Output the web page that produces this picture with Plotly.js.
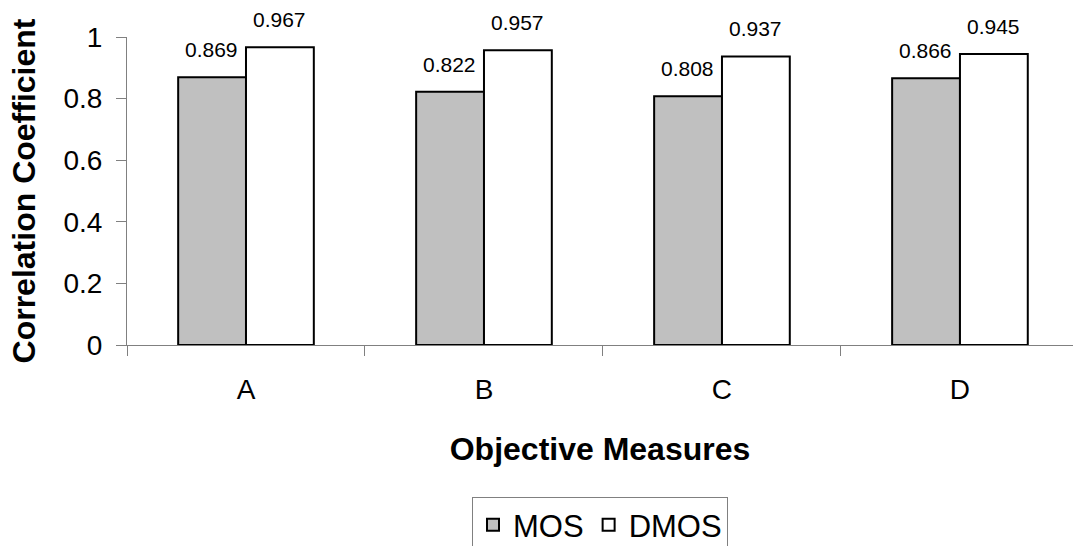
<!DOCTYPE html>
<html>
<head>
<meta charset="utf-8">
<script src="https://cdn.plot.ly/plotly-3.0.1.min.js"></script>
<style>html,body{margin:0;padding:0;overflow:hidden;background:#fff}</style>
</head>
<body>
<div id="chart" style="width:1073px;height:562px"></div>
<script>
const categories = ["A", "B", "C", "D"];
const mosValues = [0.869, 0.822, 0.808, 0.866];
const dmosValues = [0.967, 0.957, 0.937, 0.945];
const yTickValues = [0, 0.2, 0.4, 0.6, 0.8, 1];
const yTickLabels = ["0", "0.2", "0.4", "0.6", "0.8", "1"];

const FONT = "Liberation Sans, Arial, sans-serif";

const traces = [
  {type: "bar", name: "MOS", x: categories, y: mosValues,
   marker: {color: "#c0c0c0", line: {color: "#000", width: 2}}, hoverinfo: "skip"},
  {type: "bar", name: "DMOS", x: categories, y: dmosValues,
   marker: {color: "#ffffff", line: {color: "#000", width: 2}}, hoverinfo: "skip"}
];

const annotations = [];
categories.forEach((c, i) => {
  annotations.push({x: c, y: mosValues[i], text: mosValues[i].toFixed(3), showarrow: false,
    xshift: -34, yshift: 14, yanchor: "bottom", font: {family: FONT, size: 21, color: "#000"}});
  annotations.push({x: c, y: dmosValues[i], text: dmosValues[i].toFixed(3), showarrow: false,
    xshift: 34, yshift: 14, yanchor: "bottom", font: {family: FONT, size: 21, color: "#000"}});
});

const layout = {
  width: 1073, height: 562,
  margin: {l: 127, r: 0, t: 37, b: 217},
  paper_bgcolor: "#fff", plot_bgcolor: "#fff",
  font: {family: FONT, color: "#000"},
  barmode: "group", bargap: 0.43, bargroupgap: 0,
  showlegend: true,
  legend: {orientation: "h", x: 0.5, xanchor: "center", y: -0.4935, yanchor: "top",
    bordercolor: "#808080", borderwidth: 1, font: {family: FONT, size: 31, color: "#000"},
    traceorder: "normal"},
  xaxis: {type: "category", range: [-0.5, 3.475], showline: true, linecolor: "#808080", linewidth: 1,
    ticks: "outside", tickson: "boundaries", ticklen: 10, tickcolor: "#808080",
    tickfont: {family: FONT, size: 28, color: "#000"}, ticklabelstandoff: 19,
    showgrid: false, zeroline: false, fixedrange: true,
    title: {text: "<b>Objective Measures</b>", font: {family: FONT, size: 32, color: "#000"}, standoff: 34}},
  yaxis: {range: [0, 1], tickvals: yTickValues, ticktext: yTickLabels, showline: true,
    linecolor: "#808080", linewidth: 1, ticks: "outside", ticklen: 10, tickcolor: "#808080",
    tickfont: {family: FONT, size: 28, color: "#000"}, ticklabelstandoff: 8,
    showgrid: false, zeroline: false, fixedrange: true,
    title: {text: "<b>Correlation Coefficient</b>", font: {family: FONT, size: 32, color: "#000"}, standoff: 18}},
  annotations: annotations
};

Plotly.newPlot("chart", traces, layout, {displayModeBar: false, staticPlot: true});
</script>
</body>
</html>
